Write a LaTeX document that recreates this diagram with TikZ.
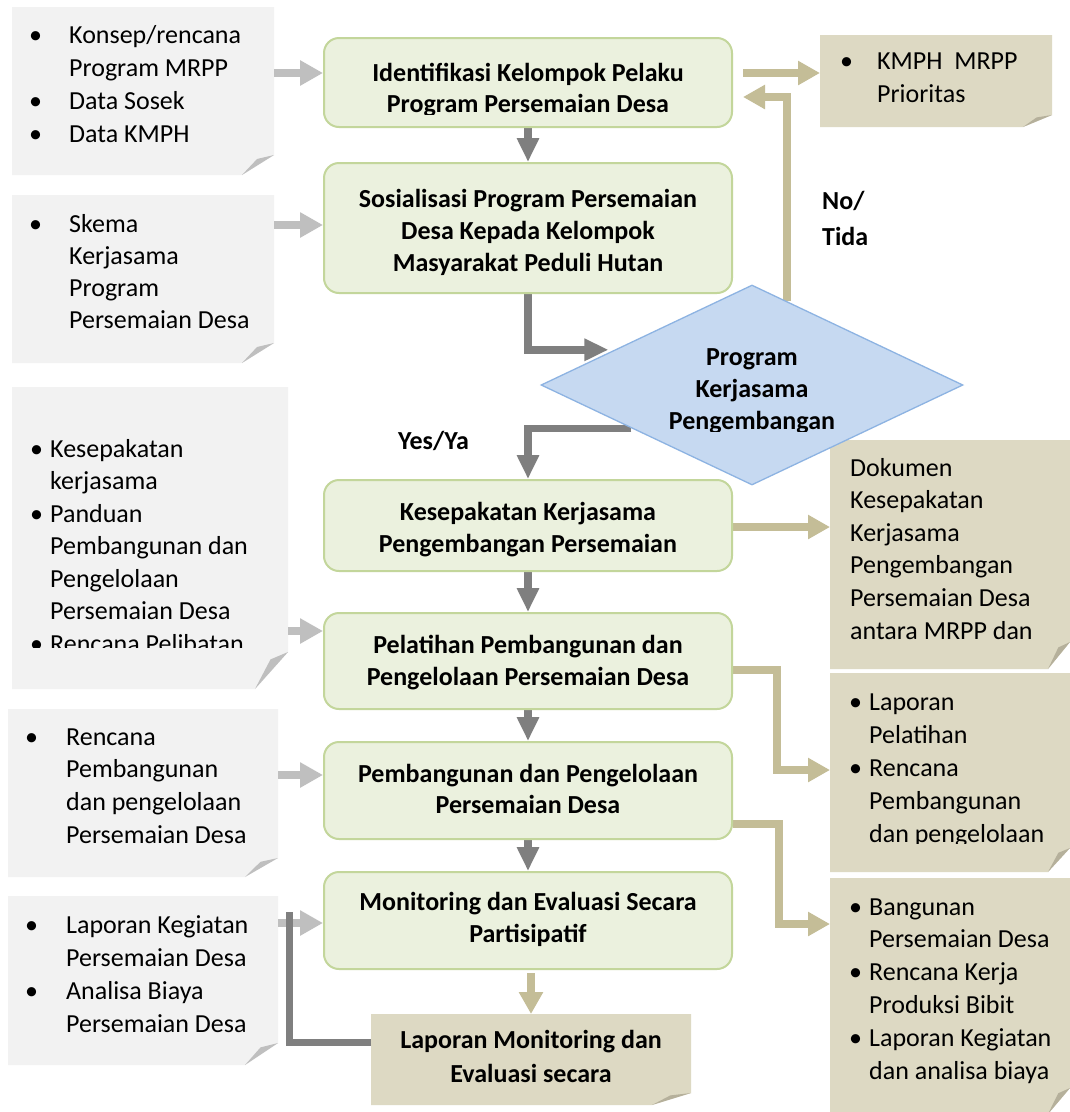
\documentclass[tikz,border=0pt]{standalone}
\usepackage{fontspec}
\setmainfont{Carlito}
\usetikzlibrary{arrows.meta,shapes.geometric,calc,backgrounds}
\definecolor{notegray}{HTML}{F2F2F2}
\definecolor{foldgray}{HTML}{BFBFBF}
\definecolor{notetan}{HTML}{DDD9C3}
\definecolor{foldtan}{HTML}{B5B09B}
\definecolor{boxgreen}{HTML}{EBF1DE}
\definecolor{boxline}{HTML}{C3D69B}
\definecolor{dfill}{HTML}{C6D9F1}
\definecolor{dline}{HTML}{8DB3E2}
\definecolor{adark}{HTML}{7F7F7F}
\definecolor{alight}{HTML}{BFBFBF}
\definecolor{atan}{HTML}{C4BD97}
\newcommand\itm[2]{\makebox[#1][l]{•}#2}
\newcommand\cnt[2]{\hspace*{#1}#2}
\begin{document}
\begin{tikzpicture}[x=1pt,y=-1pt,
  notebox/.style={rectangle,inner sep=0pt,outer sep=0pt},
  gbox/.style={rectangle,rounded corners=15pt,fill=boxgreen,draw=boxline,line width=2pt,minimum width=408pt,inner sep=0pt},
  dec/.style={diamond,fill=dfill,draw=dline,line width=1.3pt,minimum width=422pt,minimum height=200pt,inner sep=0pt},
  ntext/.style={inner sep=0pt,anchor=base west,font=\fontsize{26}{#1}\selectfont},
  btext/.style={inner sep=0pt,anchor=base,font=\fontsize{26}{#1}\selectfont\bfseries},
  lbl/.style={inner sep=0pt,anchor=base west,font=\fontsize{26}{#1}\selectfont\bfseries},
  inarrow/.style={draw=alight,line width=8pt,-{Triangle[width=24pt,length=23pt]}},
  flow/.style={draw=adark,line width=7.5pt,-{Triangle[width=21pt,length=24pt]}},
  outarrow/.style={draw=atan,line width=7.5pt,-{Triangle[width=23pt,length=22pt]}},
  fback/.style={draw=adark,line width=7pt}
]
\useasboundingbox (0,0) rectangle (1070,1112);

% ---------- note frames ----------
\node[notebox,minimum width=262pt,minimum height=168pt] (L1) at (143,91) {};
\node[notebox,minimum width=262pt,minimum height=168pt] (L2) at (143,279) {};
\node[notebox,minimum width=276pt,minimum height=302pt] (L3) at (150,538) {};
\node[notebox,minimum width=270pt,minimum height=168pt] (L4) at (143,793) {};
\node[notebox,minimum width=270pt,minimum height=169pt] (L5) at (143,980.5) {};
\node[notebox,minimum width=232pt,minimum height=92pt] (R1) at (936,81) {};
\node[notebox,minimum width=240pt,minimum height=229pt] (R2) at (950,554.5) {};
\node[notebox,minimum width=240pt,minimum height=199pt] (R3) at (950,772.5) {};
\node[notebox,minimum width=240pt,minimum height=236pt] (R4) at (950,996) {};
\node[notebox,minimum width=320pt,minimum height=91pt] (B) at (531,1059.5) {};

% ---------- process boxes ----------
\node[gbox,minimum height=89pt] (b1) at (528,82.5) {};
\node[gbox,minimum height=130pt] (b2) at (528,228) {};
\node[gbox,minimum height=91pt] (b3) at (528,525.5) {};
\node[gbox,minimum height=96pt] (b4) at (528,661) {};
\node[gbox,minimum height=97pt] (b5) at (528,790.5) {};
\node[gbox,minimum height=97pt] (b6) at (528,920.5) {};
\node[dec] (d) at (752,385) {};

\coordinate (fbend) at (289,912);

% ---------- background: notes and connectors ----------
\begin{scope}[on background layer]
  \fill[white] (0,0) rectangle (1070,1112);
  \foreach \n/\dx/\dy/\fc/\kc in {L1/32/20/notegray/foldgray, L2/32/20/notegray/foldgray,
      L3/33/37/notegray/foldgray, L4/33/19/notegray/foldgray, L5/33/22/notegray/foldgray,
      R1/29/12/notetan/foldtan, R2/22/27/notetan/foldtan, R3/22/24/notetan/foldtan,
      R4/22/26/notetan/foldtan, B/39/12/notetan/foldtan}{
    \fill[\fc] (\n.north west) -- (\n.north east) -- ($(\n.south east)+(0,-\dy)$)
       -- ($(\n.south east)+(-\dx,0)$) -- (\n.south west) -- cycle;
    \fill[\kc] ($(\n.south east)+(-\dx,0)$) -- ($(\n.south east)+(0,-\dy)$)
       -- ($(\n.south east)+(-0.53*\dx,-0.8*\dy)$) -- cycle;
  }
  % inputs
  \draw[inarrow] (L1.east|-0,73) -- (b1.west|-0,73);
  \draw[inarrow] (L2.east|-0,225) -- (b2.west|-0,225);
  \draw[inarrow] (L3.east|-0,631) -- (b4.west|-0,631);
  \draw[inarrow] (L4.east|-0,775) -- (b5.west|-0,775);
  \draw[inarrow] (L5.east|-0,923) -- (b6.west|-0,923);
  % main flow
  \draw[flow] (b1.south) -- (b2.north);
  \draw[flow,shorten >=6pt] (b2.south) |- ($(d.west)!0.35!(d.north)$);
  \draw[flow] ($(d.west)!0.43!(d.south)$) -| (b3.north);
  \draw[flow] (b3.south) -- (b4.north);
  \draw[flow] (b4.south) -- (b5.north);
  \draw[flow] (b5.south) -- (b6.north);
  \draw[fback] (B.west|-0,1042) -| (fbend);
  % outputs
  \draw[outarrow,shorten <=10pt] (b1.east|-0,73) -- (R1.west|-0,73);
  \draw[outarrow,shorten >=10pt] ($(d.north)!0.166!(d.east)$) |- (b1.east|-0,97);
  \draw[outarrow] (b3.east|-0,527) -- (R2.west|-0,527);
  \draw[outarrow] (b4.east|-0,670) -- (777,670) -- (777,770) -- (R3.west|-0,770);
  \draw[outarrow] (b5.east|-0,824) -- (779,824) -- (779,924) -- (R4.west|-0,924);
  \draw[outarrow,shorten <=3pt] (B.north|-b6.south) -- (B.north);
\end{scope}

% ---------- texts ----------
\node[ntext=33.3] (L1t) at (29,43) {\begin{tabular}[t]{@{}l@{}}\itm{40pt}{Konsep/rencana}\\\cnt{40pt}{Program MRPP}\\\itm{40pt}{Data Sosek}\\\itm{40pt}{Data KMPH}\end{tabular}};
\node[ntext=32] (L2t) at (29,232) {\begin{tabular}[t]{@{}l@{}}\itm{40pt}{Skema}\\\cnt{40pt}{Kerjasama}\\\cnt{40pt}{Program}\\\cnt{40pt}{Persemaian Desa}\end{tabular}};
\begin{scope}
  \clip (12,387) rectangle (288,647);
  \node[ntext=32.5] (L3t) at (30,457) {\begin{tabular}[t]{@{}l@{}}\itm{20pt}{Kesepakatan}\\\cnt{20pt}{kerjasama}\\\itm{20pt}{Panduan}\\\cnt{20pt}{Pembangunan dan}\\\cnt{20pt}{Pengelolaan}\\\cnt{20pt}{Persemaian Desa}\\\itm{20pt}{Rencana Pelibatan}\end{tabular}};
\end{scope}
\node[ntext=32.7] (L4t) at (25,745) {\begin{tabular}[t]{@{}l@{}}\itm{41pt}{Rencana}\\\cnt{41pt}{Pembangunan}\\\cnt{41pt}{dan pengelolaan}\\\cnt{41pt}{Persemaian Desa}\end{tabular}};
\node[ntext=33] (L5t) at (25,933) {\begin{tabular}[t]{@{}l@{}}\itm{41pt}{Laporan Kegiatan}\\\cnt{41pt}{Persemaian Desa}\\\itm{41pt}{Analisa Biaya}\\\cnt{41pt}{Persemaian Desa}\end{tabular}};

\node[ntext=33] (R1t) at (840,69) {\begin{tabular}[t]{@{}l@{}}\itm{37pt}{KMPH\ \ MRPP}\\\cnt{37pt}{Prioritas}\end{tabular}};
\node[ntext=32.6] (R2t) at (850,476) {\begin{tabular}[t]{@{}l@{}}Dokumen\\Kesepakatan\\Kerjasama\\Pengembangan\\Persemaian Desa\\antara MRPP dan\end{tabular}};
\begin{scope}
  \clip (830,673) rectangle (1070,843);
  \node[ntext=33] (R3t) at (849,710) {\begin{tabular}[t]{@{}l@{}}\itm{20pt}{Laporan}\\\cnt{20pt}{Pelatihan}\\\itm{20pt}{Rencana}\\\cnt{20pt}{Pembangunan}\\\cnt{20pt}{dan pengelolaan}\end{tabular}};
\end{scope}
\node[ntext=32.8] (R4t) at (849,915) {\begin{tabular}[t]{@{}l@{}}\itm{20pt}{Bangunan}\\\cnt{20pt}{Persemaian Desa}\\\itm{20pt}{Rencana Kerja}\\\cnt{20pt}{Produksi Bibit}\\\itm{20pt}{Laporan Kegiatan}\\\cnt{20pt}{dan analisa biaya}\end{tabular}};

\begin{scope}
  \clip (324,38) rectangle (732,114);
  \node[btext=31] (b1t) at (528,81) {\begin{tabular}[t]{@{}c@{}}Identifikasi Kelompok Pelaku\\Program Persemaian Desa\end{tabular}};
\end{scope}
\node[btext=32] (b2t) at (528,207) {\begin{tabular}[t]{@{}c@{}}Sosialisasi Program Persemaian\\Desa Kepada Kelompok\\Masyarakat Peduli Hutan\end{tabular}};
\node[btext=32] (b3t) at (528,520) {\begin{tabular}[t]{@{}c@{}}Kesepakatan Kerjasama\\Pengembangan Persemaian\end{tabular}};
\node[btext=32] (b4t) at (528,653) {\begin{tabular}[t]{@{}c@{}}Pelatihan Pembangunan dan\\Pengelolaan Persemaian Desa\end{tabular}};
\node[btext=31] (b5t) at (528,782) {\begin{tabular}[t]{@{}c@{}}Pembangunan dan Pengelolaan\\Persemaian Desa\end{tabular}};
\node[btext=32] (b6t) at (528,910) {\begin{tabular}[t]{@{}c@{}}Monitoring dan Evaluasi Secara\\Partisipatif\end{tabular}};
\node[btext=34] (Bt) at (531,1048) {\begin{tabular}[t]{@{}c@{}}Laporan Monitoring dan\\Evaluasi secara\end{tabular}};
\begin{scope}
  \clip (541,285) rectangle (963,431);
  \node[btext=32] (dt) at (752,365) {\begin{tabular}[t]{@{}c@{}}Program\\Kerjasama\\Pengembangan\end{tabular}};
\end{scope}

\node[lbl=36] (nolbl) at (822,209) {\begin{tabular}[t]{@{}l@{}}No/\\Tida\end{tabular}};
\node[lbl=30] (yeslbl) at (398,449) {Yes/Ya};
\end{tikzpicture}
\end{document}
